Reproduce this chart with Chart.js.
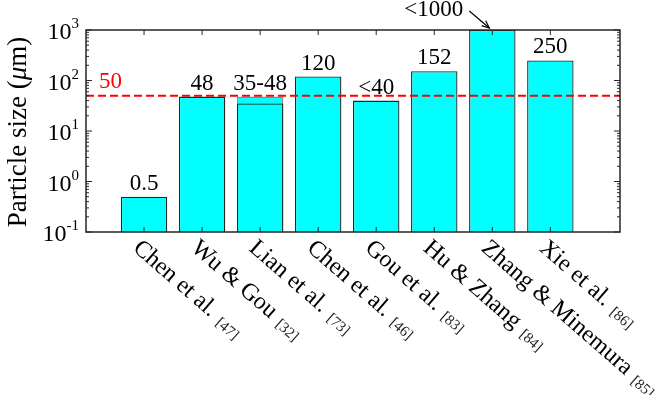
<!DOCTYPE html>
<html>
<head>
<meta charset="utf-8">
<script src="https://cdn.jsdelivr.net/npm/chart.js@4.4.1/dist/chart.umd.min.js"></script>
<style>
  html, body { margin: 0; padding: 0; background: #ffffff; }
  #wrap { width: 671px; height: 395px; position: relative; }
</style>
</head>
<body>
<div id="wrap"><canvas id="c" width="671" height="395"></canvas></div>
<script>
// ---------- data ----------
const categories = ['Chen et al.', 'Wu & Gou', 'Lian et al.', 'Chen et al.', 'Gou et al.', 'Hu & Zhang', 'Zhang & Minemura', 'Xie et al.'];
const references = ['[47]', '[32]', '[73]', '[46]', '[83]', '[84]', '[85]', '[86]'];
const particleSize = [0.5, 48, 48, 120, 40, 152, 1000, 250];   // upper value of each study
const lianLower = 35;                                            // lower value of the 35-48 range
const lianIndex = 2;
const valueLabels = ['0.5', '48', '35-48', '120', '<40', '152', '<1000', '250'];
const thresholdValue = 50;
const thresholdLabel = '50';
const yTickValues = [0.1, 1, 10, 100, 1000];
const yTickExponents = ['-1', '0', '1', '2', '3'];
const yAxisMin = 0.1, yAxisMax = 1000;

// ---------- styles ----------
const SERIF = "'Liberation Serif', 'Times New Roman', serif";
const AXIS = '#262626';

const mainData = categories.map((c, i) => ({ x: i + 1, y: particleSize[i] }));
const lianData = [{ x: lianIndex + 1, y: lianLower }];

const decor = {
  id: 'decor',
  afterDraw(chart) {
    const ctx = chart.ctx;
    const ca = chart.chartArea;
    const xs = chart.scales.x, ys = chart.scales.y;
    ctx.save();

    // threshold dashed line
    const yt = ys.getPixelForValue(thresholdValue);
    ctx.strokeStyle = '#ff0000';
    ctx.lineWidth = 2;
    ctx.setLineDash([8, 4]);
    ctx.beginPath();
    ctx.moveTo(ca.left, yt);
    ctx.lineTo(ca.right, yt);
    ctx.stroke();
    ctx.setLineDash([]);
    ctx.fillStyle = '#ff0000';
    ctx.font = '23px ' + SERIF;
    ctx.textAlign = 'left';
    ctx.textBaseline = 'alphabetic';
    ctx.fillText(thresholdLabel, ca.left + 13, yt - 8);

    // box
    ctx.strokeStyle = AXIS;
    ctx.lineWidth = 1.5;
    ctx.strokeRect(ca.left, ca.top, ca.right - ca.left, ca.bottom - ca.top);

    // y ticks (major + minor), both sides, inward
    ctx.lineWidth = 1;
    ctx.beginPath();
    for (let e = -1; e <= 3; e++) {
      const y = ys.getPixelForValue(Math.pow(10, e));
      ctx.moveTo(ca.left, y); ctx.lineTo(ca.left + 6, y);
      ctx.moveTo(ca.right, y); ctx.lineTo(ca.right - 6, y);
      if (e < 3) {
        for (let m = 2; m <= 9; m++) {
          const ym = ys.getPixelForValue(m * Math.pow(10, e));
          ctx.moveTo(ca.left, ym); ctx.lineTo(ca.left + 3, ym);
          ctx.moveTo(ca.right, ym); ctx.lineTo(ca.right - 3, ym);
        }
      }
    }
    // x ticks top and bottom
    categories.forEach((c, i) => {
      const x = xs.getPixelForValue(i + 1);
      ctx.moveTo(x, ca.bottom); ctx.lineTo(x, ca.bottom - 5);
      ctx.moveTo(x, ca.top); ctx.lineTo(x, ca.top + 5);
    });
    ctx.stroke();

    // y tick labels 10^e
    ctx.fillStyle = '#000';
    yTickValues.forEach((v, i) => {
      const y = ys.getPixelForValue(v);
      const exp = yTickExponents[i];
      ctx.font = '15px ' + SERIF;
      const we = ctx.measureText(exp).width;
      ctx.textAlign = 'left';
      ctx.textBaseline = 'alphabetic';
      const xr = ca.left - 7;
      ctx.fillText(exp, xr - we, y - 2);
      ctx.font = '24px ' + SERIF;
      const wb = ctx.measureText('10').width;
      ctx.fillText('10', xr - we - wb, y + 9);
    });

    // y axis title with italic mu
    ctx.save();
    ctx.translate(26, (ca.top + ca.bottom) / 2 + 1);
    ctx.rotate(-Math.PI / 2);
    const parts = [['Particle size (', false], ['\u03bc', true], ['m)', false]];
    let total = 0;
    parts.forEach(p => { ctx.font = (p[1] ? 'italic ' : '') + '27px ' + SERIF; total += ctx.measureText(p[0]).width; });
    let px = -total / 2;
    ctx.textAlign = 'left';
    ctx.textBaseline = 'alphabetic';
    parts.forEach(p => {
      ctx.font = (p[1] ? 'italic ' : '') + '27px ' + SERIF;
      ctx.fillText(p[0], px, 0);
      px += ctx.measureText(p[0]).width;
    });
    ctx.restore();

    // value labels
    ctx.font = '23px ' + SERIF;
    ctx.fillStyle = '#000';
    valueLabels.forEach((lab, i) => {
      const x = xs.getPixelForValue(i + 1);
      const y = ys.getPixelForValue(particleSize[i]);
      if (particleSize[i] >= yAxisMax) {
        // annotation with arrow pointing at bar top
        const tipX = x - 3, tipY = y - 2;
        const tailX = tipX - 20, tailY = tipY - 17;
        ctx.strokeStyle = '#000';
        ctx.lineWidth = 1.2;
        ctx.beginPath();
        ctx.moveTo(tailX, tailY); ctx.lineTo(tipX, tipY);
        ctx.stroke();
        const ang = Math.atan2(tipY - tailY, tipX - tailX);
        ctx.beginPath();
        ctx.moveTo(tipX - 8 * Math.cos(ang - 0.4), tipY - 8 * Math.sin(ang - 0.4));
        ctx.lineTo(tipX, tipY);
        ctx.lineTo(tipX - 8 * Math.cos(ang + 0.4), tipY - 8 * Math.sin(ang + 0.4));
        ctx.stroke();
        ctx.textAlign = 'right';
        ctx.textBaseline = 'alphabetic';
        ctx.fillText(lab, tailX - 6, tailY + 5);
      } else {
        ctx.textAlign = 'center';
        ctx.textBaseline = 'alphabetic';
        ctx.fillText(lab, x, y - 7);
      }
    });

    // rotated x labels with reference numbers
    categories.forEach((c, i) => {
      const x = xs.getPixelForValue(i + 1);
      ctx.save();
      ctx.translate(x - 8, ca.bottom + 13);
      ctx.rotate(41 * Math.PI / 180);
      ctx.textAlign = 'left';
      ctx.textBaseline = 'middle';
      ctx.font = '24px ' + SERIF;
      ctx.fillStyle = '#000';
      ctx.fillText(c, 0, 0);
      const w = ctx.measureText(c).width;
      ctx.font = '15px ' + SERIF;
      ctx.fillStyle = '#222';
      ctx.fillText(references[i], w + 8, 4);
      ctx.restore();
    });

    ctx.restore();
  }
};

new Chart(document.getElementById('c'), {
  type: 'bar',
  data: {
    datasets: [
      {
        data: mainData,
        backgroundColor: '#00ffff',
        borderColor: categories.map((c, i) => i === lianIndex ? '#8a8a8a' : '#262626'),
        borderWidth: 1.3,
        barPercentage: 0.8,
        categoryPercentage: 1,
        grouped: false,
        order: 2
      },
      {
        data: lianData,
        backgroundColor: '#00ffff',
        borderColor: '#262626',
        borderWidth: 1.3,
        barPercentage: 0.8,
        categoryPercentage: 1,
        grouped: false,
        order: 1
      }
    ]
  },
  options: {
    responsive: false,
    animation: false,
    layout: { padding: { top: 30, right: 51, left: 0, bottom: 0 } },
    plugins: { legend: { display: false }, tooltip: { enabled: false } },
    scales: {
      x: {
        type: 'linear', min: 0, max: 9.2, offset: false,
        grid: { display: false, offset: false }, border: { display: false },
        ticks: { display: false },
        afterFit: s => { s.height = 163; }
      },
      y: {
        type: 'logarithmic', min: yAxisMin, max: yAxisMax,
        grid: { display: false }, border: { display: false },
        ticks: { display: false },
        afterFit: s => { s.width = 86; }
      }
    }
  },
  plugins: [decor]
});
</script>
</body>
</html>
